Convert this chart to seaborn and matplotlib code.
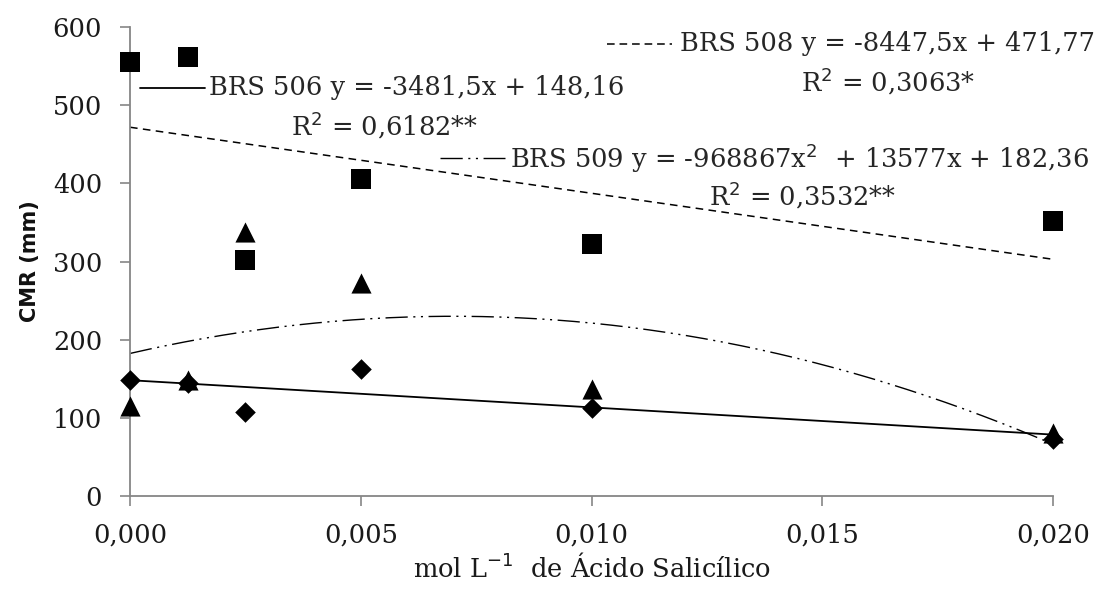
import numpy as np
import pandas as pd
import matplotlib
matplotlib.use("Agg")
import matplotlib.pyplot as plt
import seaborn as sns

# ---- data ----
doses = [0.0, 0.00125, 0.0025, 0.005, 0.010, 0.020]
brs506 = [148, 145, 108, 162, 113, 73]
brs508 = [555, 562, 302, 405, 323, 352]
brs509 = [115, 148, 338, 273, 137, 80]

# trend-line coefficients (as printed on the chart)
coef506 = [-3481.5, 148.16]            # linear
coef508 = [-8447.5, 471.77]            # linear
coef509 = [-968867, 13577, 182.36]     # quadratic

xticks = [0.000, 0.005, 0.010, 0.015, 0.020]
xticklabels = ["0,000", "0,005", "0,010", "0,015", "0,020"]
yticks = [0, 100, 200, 300, 400, 500, 600]

sns.set_theme(style="white")
plt.rcParams["font.family"] = ["DejaVu Serif"]

W, H = 1103, 596
fig = plt.figure(figsize=(W / 100, H / 100), dpi=100)
ax = fig.add_axes([130 / W, 1 - 496 / H, (1053 - 130) / W, (496 - 27) / H])

df = pd.DataFrame({"x": doses, "506": brs506, "508": brs508, "509": brs509})

xs = np.linspace(0, 0.020, 300)
fit = pd.DataFrame({
    "x": xs,
    "506": np.polyval(coef506, xs),
    "508": np.polyval(coef508, xs),
    "509": np.polyval(coef509, xs),
})

DASH508 = (5, 3.5)
DASH509 = (16, 4, 1.5, 4, 1.5, 4)

sns.lineplot(data=fit, x="x", y="506", ax=ax, color="black", lw=1.3)
sns.lineplot(data=fit, x="x", y="508", ax=ax, color="black", lw=1.1)
ax.lines[-1].set_dashes(DASH508)
sns.lineplot(data=fit, x="x", y="509", ax=ax, color="black", lw=1.0)
ax.lines[-1].set_dashes(DASH509)

sns.scatterplot(data=df, x="x", y="508", ax=ax, marker="s", s=210, color="black",
                linewidth=0, zorder=5, clip_on=False)
sns.scatterplot(data=df, x="x", y="509", ax=ax, marker="^", s=210, color="black",
                linewidth=0, zorder=5, clip_on=False)
sns.scatterplot(data=df, x="x", y="506", ax=ax, marker="D", s=110, color="black",
                linewidth=0, zorder=6, clip_on=False)

ax.set_xlim(0, 0.020)
ax.set_ylim(0, 600)
ax.set_xticks(xticks)
ax.set_xticklabels(xticklabels)
ax.set_yticks(yticks)
ax.tick_params(axis="both", labelsize=18.5, length=7, width=1.2, color="#868686",
               labelcolor="#1a1a1a", direction="out", bottom=True, left=True)
ax.tick_params(axis="x", pad=12)
ax.tick_params(axis="y", pad=13)
for s in ["top", "right"]:
    ax.spines[s].set_visible(False)
for s in ["left", "bottom"]:
    ax.spines[s].set_color("#868686")
    ax.spines[s].set_linewidth(1.3)

ax.set_xlabel("mol L$^{-1}$  de Ácido Salicílico", fontsize=18.5, labelpad=4, color="#1a1a1a")
ax.set_ylabel("CMR (mm)", fontsize=15, fontweight="bold", labelpad=9,
              family=["DejaVu Sans"], color="#111111")

# equation annotations (figure pixel positions)
def fx(px):
    return px / W
def fy(py):
    return 1 - py / H

FS = 18.5
fig.add_artist(plt.Line2D([fx(140), fx(205)], [fy(88), fy(88)], color="black", lw=1.3))
fig.text(fx(209), fy(88), "BRS 506 y = -3481,5x + 148,16", fontsize=FS, va="center", ha="left")
fig.text(fx(385), fy(125), "R$^2$ = 0,6182**", fontsize=FS, va="center", ha="center")

fig.add_artist(plt.Line2D([fx(607), fx(672)], [fy(44), fy(44)], color="black", lw=1.1, dashes=(5, 3.2)))
fig.text(fx(680), fy(44), "BRS 508 y = -8447,5x + 471,77", fontsize=FS, va="center", ha="left")
fig.text(fx(888), fy(81), "R$^2$ = 0,3063*", fontsize=FS, va="center", ha="center")

fig.add_artist(plt.Line2D([fx(440), fx(505)], [fy(158), fy(158)], color="black", lw=1.0, dashes=DASH509))
fig.text(fx(510), fy(158), "BRS 509 y = -968867x$^2$  + 13577x + 182,36", fontsize=FS, va="center", ha="left")
fig.text(fx(803), fy(195), "R$^2$ = 0,3532**", fontsize=FS, va="center", ha="center")

fig.savefig("out.png", dpi=100)
